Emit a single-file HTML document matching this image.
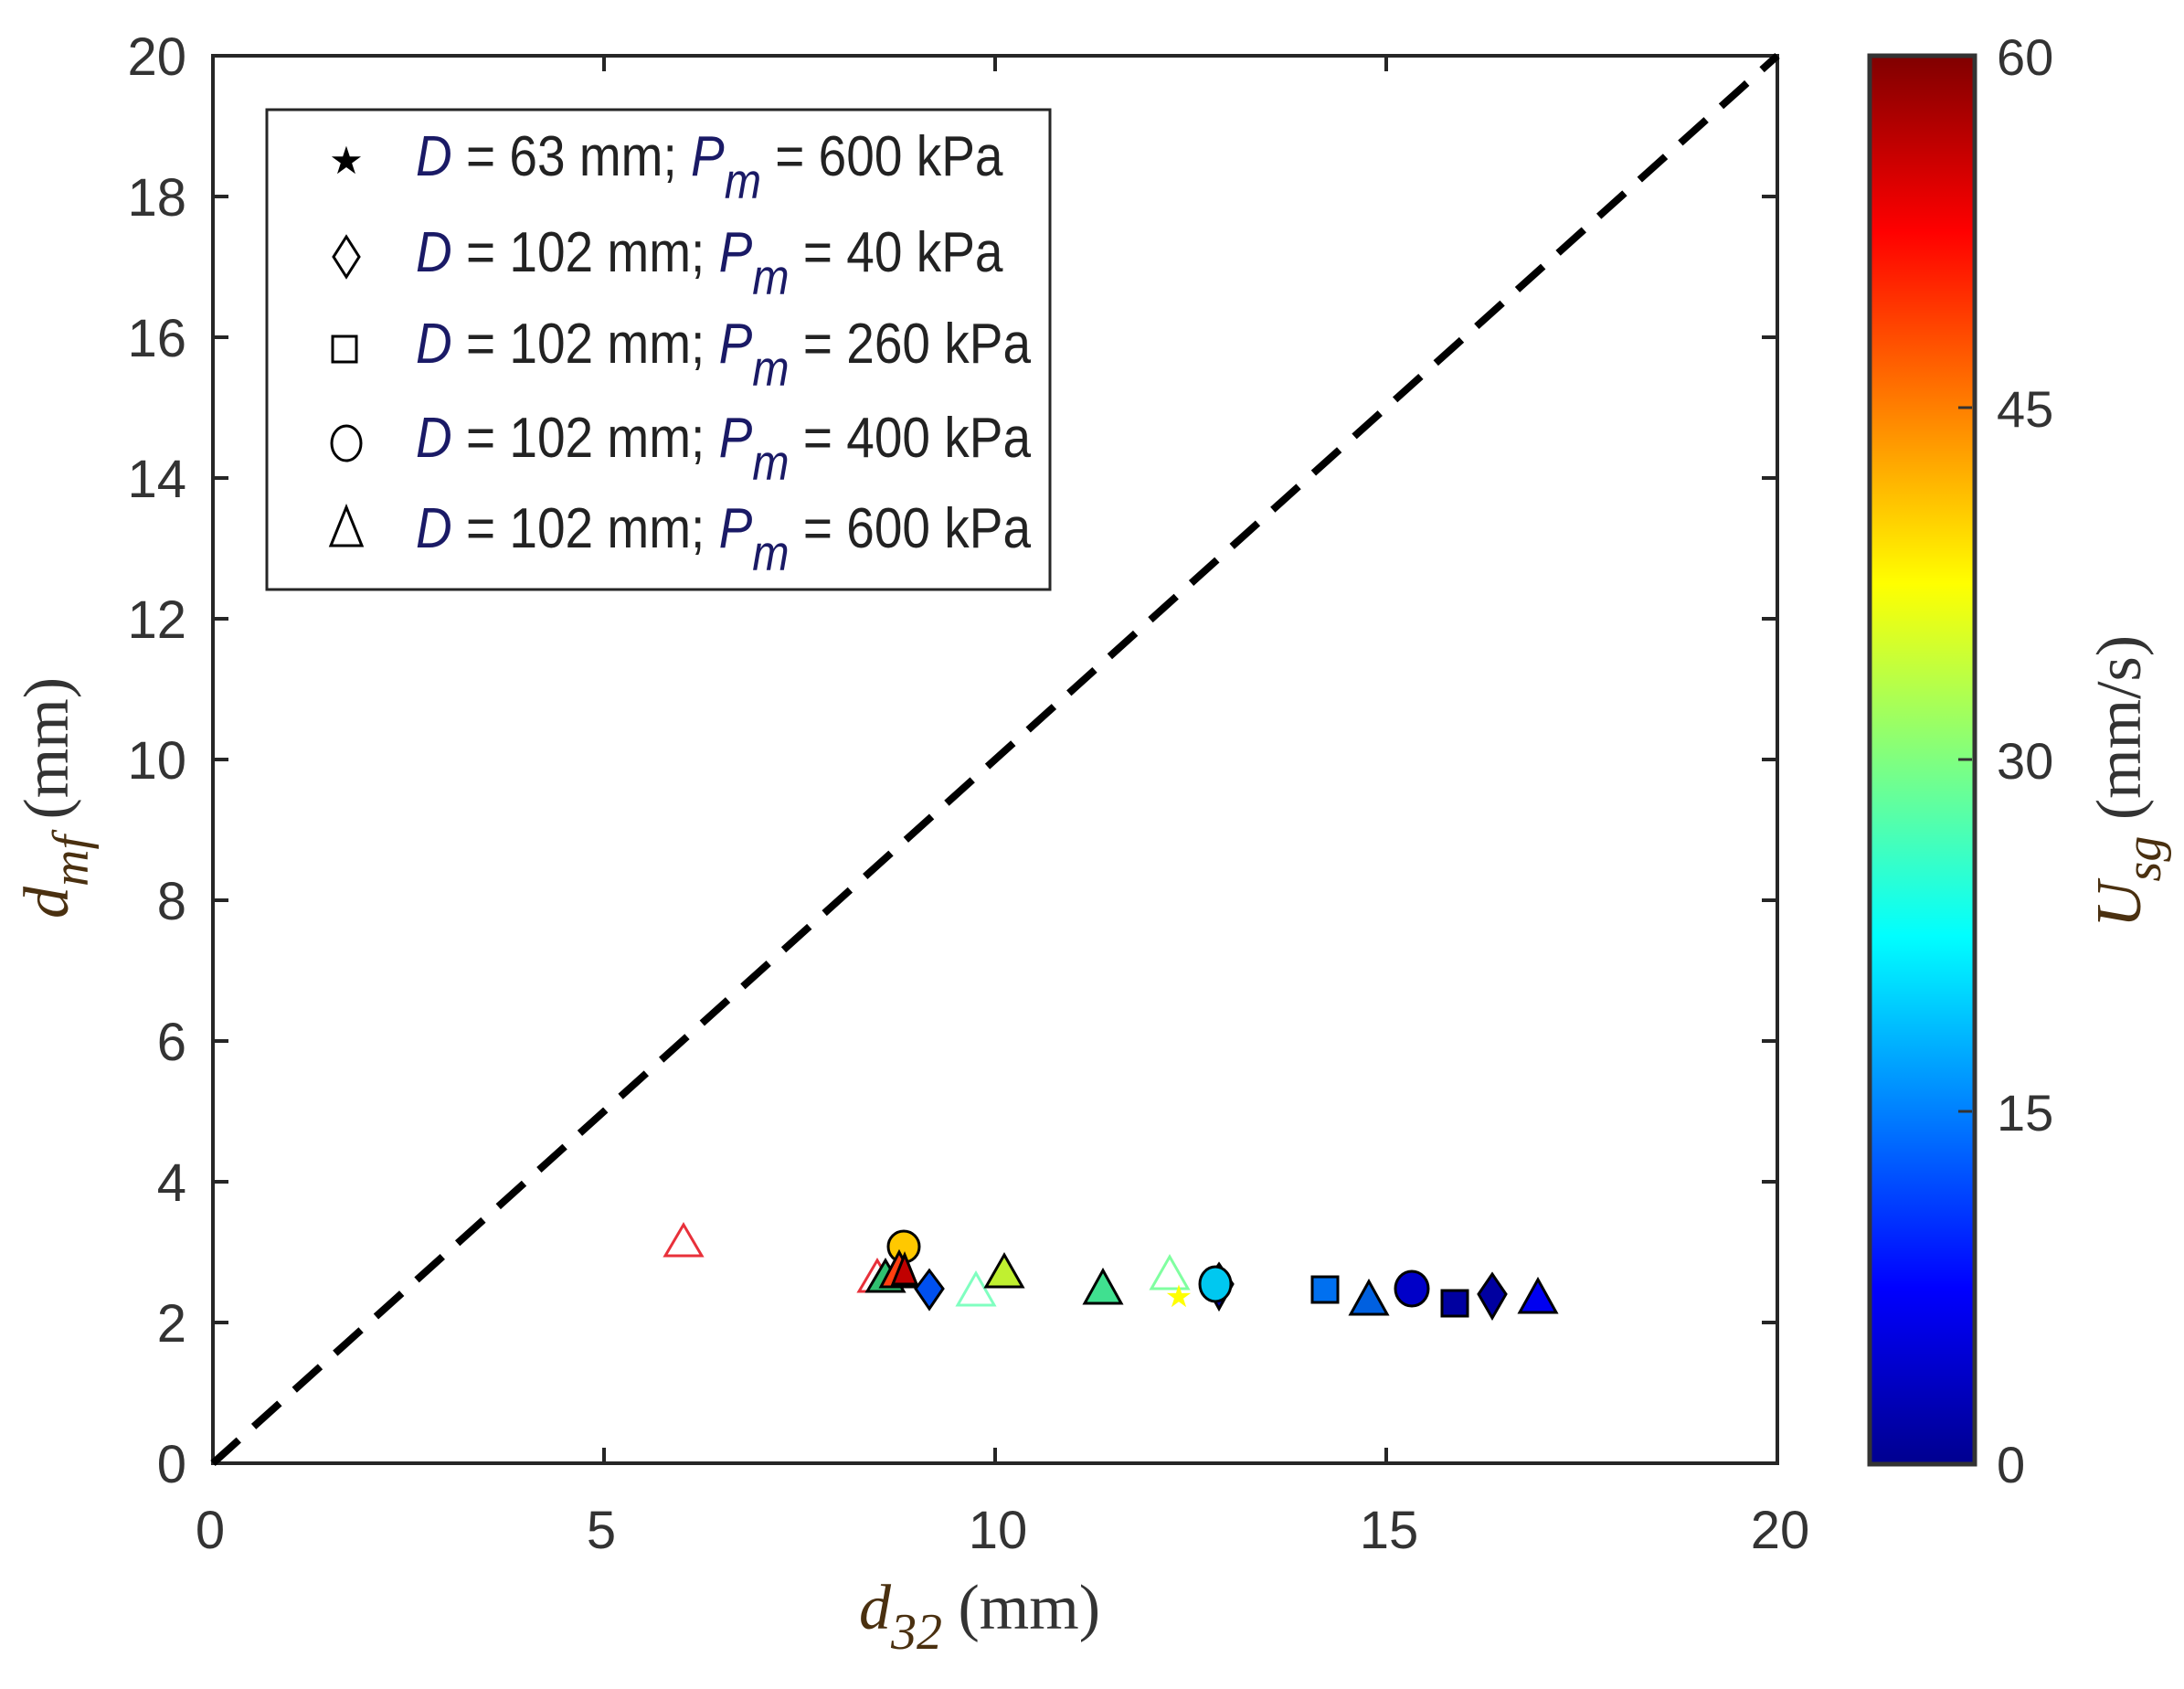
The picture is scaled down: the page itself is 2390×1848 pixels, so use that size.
<!DOCTYPE html>
<html><head><meta charset="utf-8"><style>html,body{margin:0;padding:0;background:#fff}svg{display:block}</style></head>
<body>
<svg width="2390" height="1848" viewBox="0 0 2390 1848" xmlns="http://www.w3.org/2000/svg">
<defs>
<linearGradient id="jet" x1="0" y1="1" x2="0" y2="0">
<stop offset="0" stop-color="#00008f"/>
<stop offset="0.125" stop-color="#0000ff"/>
<stop offset="0.375" stop-color="#00ffff"/>
<stop offset="0.625" stop-color="#ffff00"/>
<stop offset="0.875" stop-color="#ff0000"/>
<stop offset="1" stop-color="#800000"/>
</linearGradient>
</defs>
<g font-family="Liberation Sans, sans-serif" fill="#333">
<rect x="233" y="61" width="1712" height="1540" fill="none" stroke="#262626" stroke-width="4"/>
<g stroke="#262626" stroke-width="4">
<line x1="661" y1="1601" x2="661" y2="1584"/><line x1="1089" y1="1601" x2="1089" y2="1584"/><line x1="1517" y1="1601" x2="1517" y2="1584"/>
<line x1="661" y1="61" x2="661" y2="78"/><line x1="1089" y1="61" x2="1089" y2="78"/><line x1="1517" y1="61" x2="1517" y2="78"/>
<line x1="233" y1="215" x2="250" y2="215"/><line x1="233" y1="369" x2="250" y2="369"/><line x1="233" y1="523" x2="250" y2="523"/><line x1="233" y1="677" x2="250" y2="677"/><line x1="233" y1="831" x2="250" y2="831"/><line x1="233" y1="985" x2="250" y2="985"/><line x1="233" y1="1139" x2="250" y2="1139"/><line x1="233" y1="1293" x2="250" y2="1293"/><line x1="233" y1="1447" x2="250" y2="1447"/>
<line x1="1945" y1="215" x2="1928" y2="215"/><line x1="1945" y1="369" x2="1928" y2="369"/><line x1="1945" y1="523" x2="1928" y2="523"/><line x1="1945" y1="677" x2="1928" y2="677"/><line x1="1945" y1="831" x2="1928" y2="831"/><line x1="1945" y1="985" x2="1928" y2="985"/><line x1="1945" y1="1139" x2="1928" y2="1139"/><line x1="1945" y1="1293" x2="1928" y2="1293"/><line x1="1945" y1="1447" x2="1928" y2="1447"/>
</g>
<g font-size="58" text-anchor="end">
<text x="204" y="82">20</text><text x="204" y="236">18</text><text x="204" y="390">16</text><text x="204" y="544">14</text><text x="204" y="698">12</text><text x="204" y="852">10</text><text x="204" y="1006">8</text><text x="204" y="1160">6</text><text x="204" y="1314">4</text><text x="204" y="1468">2</text><text x="204" y="1622">0</text>
</g>
<g font-size="58" text-anchor="middle">
<text x="230" y="1694">0</text><text x="658" y="1694">5</text><text x="1092" y="1694">10</text><text x="1520" y="1694">15</text><text x="1948" y="1694">20</text>
</g>
<line x1="233" y1="1601" x2="1945" y2="61" stroke="#000" stroke-width="8" stroke-dasharray="38,22"/>
<g stroke-width="3">
<path d="M748 1340 L768 1374 L728 1374 Z" fill="none" stroke="#e8303a"/>
<path d="M960 1379 L980 1413 L940 1413 Z" fill="none" stroke="#e8303a"/>
<path d="M969 1379 L989 1413 L949 1413 Z" fill="#30c070" stroke="#000"/>
<circle cx="989" cy="1364" r="17" fill="#ffc800" stroke="#000"/>
<path d="M984 1370 L1004 1408 L964 1408 Z" fill="#ff4010" stroke="#000"/>
<path d="M990 1373 L1003 1405 L977 1405 Z" fill="#c00000" stroke="#000"/>
<path d="M1017 1390 L1032 1410 L1017 1432 L1002 1410 Z" fill="#0050f0" stroke="#000"/>
<path d="M1068 1393 L1088 1428 L1048 1428 Z" fill="none" stroke="#80ffc0"/>
<path d="M1099 1373 L1119 1408 L1079 1408 Z" fill="#c0f030" stroke="#000"/>
<path d="M1207 1390 L1227 1426 L1187 1426 Z" fill="#40e090" stroke="#000"/>
<path d="M1280 1375 L1300 1410 L1260 1410 Z" fill="none" stroke="#80ffa0"/>
<text x="1290" y="1430" font-size="34" fill="#ffff00" text-anchor="middle">★</text>
<path d="M1334 1383 L1349 1405 L1334 1432 L1319 1405 Z" fill="#0000a0" stroke="#000"/>
<ellipse cx="1330" cy="1405" rx="17" ry="19" fill="#00c8f0" stroke="#000"/>
<rect x="1436" y="1397" width="28" height="28" fill="#0070f0" stroke="#000"/>
<path d="M1498 1402 L1518 1438 L1478 1438 Z" fill="#0060e0" stroke="#000"/>
<ellipse cx="1545" cy="1410" rx="18" ry="19" fill="#0000c8" stroke="#000"/>
<rect x="1578" y="1412" width="28" height="28" fill="#0000a0" stroke="#000"/>
<path d="M1633 1394 L1648 1416 L1633 1442 L1618 1416 Z" fill="#0000a0" stroke="#000"/>
<path d="M1683 1400 L1703 1436 L1663 1436 Z" fill="#0000f0" stroke="#000"/>
</g>
<rect x="292" y="120" width="857" height="525" fill="#fff" stroke="#262626" stroke-width="3"/>
<g fill="none" stroke="#000" stroke-width="3">
<text x="379" y="190" font-size="42" fill="#000" stroke="none" text-anchor="middle">★</text>
<path d="M379 259 L393 281 L379 303 L365 281 Z"/>
<rect x="364" y="368" width="26" height="28"/>
<ellipse cx="379" cy="485" rx="16" ry="19"/>
<path d="M379 555 L396 597 L362 597 Z"/>
</g>
<g font-size="50" fill="#222">
<text x="0" y="0" transform="translate(455,192) scale(1.1,1.25)"><tspan font-style="italic" fill="#1a1a66">D</tspan> = 63 mm; <tspan font-style="italic" fill="#1a1a66">P</tspan><tspan font-style="italic" font-size="44" dy="20" fill="#1a1a66">m</tspan><tspan dy="-20"> = 600 kPa</tspan></text>
<text x="0" y="0" transform="translate(455,297) scale(1.1,1.25)"><tspan font-style="italic" fill="#1a1a66">D</tspan> = 102 mm; <tspan font-style="italic" fill="#1a1a66">P</tspan><tspan font-style="italic" font-size="44" dy="20" fill="#1a1a66">m</tspan><tspan dy="-20"> = 40 kPa</tspan></text>
<text x="0" y="0" transform="translate(455,397) scale(1.1,1.25)"><tspan font-style="italic" fill="#1a1a66">D</tspan> = 102 mm; <tspan font-style="italic" fill="#1a1a66">P</tspan><tspan font-style="italic" font-size="44" dy="20" fill="#1a1a66">m</tspan><tspan dy="-20"> = 260 kPa</tspan></text>
<text x="0" y="0" transform="translate(455,500) scale(1.1,1.25)"><tspan font-style="italic" fill="#1a1a66">D</tspan> = 102 mm; <tspan font-style="italic" fill="#1a1a66">P</tspan><tspan font-style="italic" font-size="44" dy="20" fill="#1a1a66">m</tspan><tspan dy="-20"> = 400 kPa</tspan></text>
<text x="0" y="0" transform="translate(455,599) scale(1.1,1.25)"><tspan font-style="italic" fill="#1a1a66">D</tspan> = 102 mm; <tspan font-style="italic" fill="#1a1a66">P</tspan><tspan font-style="italic" font-size="44" dy="20" fill="#1a1a66">m</tspan><tspan dy="-20"> = 600 kPa</tspan></text>
</g>
<g font-family="Liberation Serif, serif" font-size="70" fill="#333">
<text x="940" y="1782"><tspan font-style="italic" fill="#4a3010">d</tspan><tspan font-style="italic" font-size="56" dy="22" fill="#4a3010">32</tspan><tspan dy="-22"> (mm)</tspan></text>
<text transform="translate(74,1005) rotate(-90)"><tspan font-style="italic" fill="#4a3010">d</tspan><tspan font-style="italic" font-size="56" dy="22" fill="#4a3010">mf</tspan><tspan dy="-22"> (mm)</tspan></text>
<text transform="translate(2342,1015) rotate(-90)"><tspan font-style="italic" fill="#4a3010">U</tspan><tspan font-style="italic" font-size="56" dy="22" fill="#4a3010">sg</tspan><tspan dy="-22"> (mm/s)</tspan></text>
</g>
<rect x="2046" y="61" width="115" height="1541" fill="url(#jet)" stroke="#333" stroke-width="5"/>
<g stroke="#333" stroke-width="3">
<line x1="2158" y1="446" x2="2143" y2="446"/><line x1="2158" y1="831" x2="2143" y2="831"/><line x1="2158" y1="1216" x2="2143" y2="1216"/>
</g>
<g font-size="56" fill="#333">
<text x="2185" y="82">60</text><text x="2185" y="467">45</text><text x="2185" y="852">30</text><text x="2185" y="1237">15</text><text x="2185" y="1622">0</text>
</g>
</g>
</svg>
</body></html>
